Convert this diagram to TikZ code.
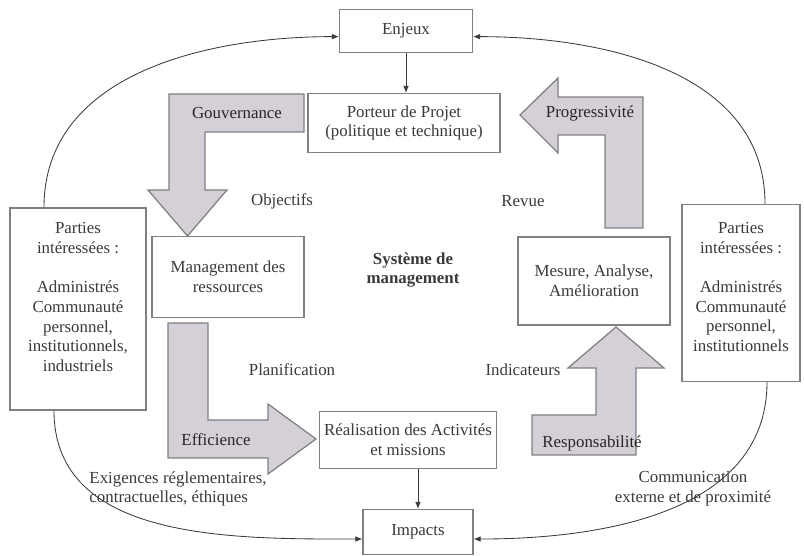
\documentclass[tikz,border=0pt]{standalone}
\usepackage{fontspec}
\setmainfont{Liberation Serif}
\usetikzlibrary{arrows.meta}

\definecolor{trait}{HTML}{808080}
\definecolor{texte}{HTML}{3A3A3A}
\definecolor{fondfleche}{HTML}{D5CFD7}

\tikzset{
  boite/.style={draw=trait, line width=0.8pt, fill=white, align=center, text=texte},
  etiq/.style={inner sep=1pt, text=black!85},
  grosse/.style={draw=trait, line width=0.9pt, fill=fondfleche},
  fleche/.style={draw=texte, line width=0.6pt, -{Latex[length=5pt,width=4pt]}},
  libre/.style={align=center, text=texte}
}

\begin{document}
\begin{tikzpicture}[x=0.025cm, y=-0.025cm, font=\fontsize{12}{14}\selectfont]
  \useasboundingbox (0,0) rectangle (804,556);

  % boites
  \node (enjeux) at (406,31) [boite, minimum width=3.325cm, minimum height=1.075cm]{Enjeux};
  \node (porteur) at (404,123) [boite, minimum width=4.8cm, minimum height=1.475cm]{Porteur de Projet\\(politique et technique)};
  \node (manag) at (228,277) [boite, minimum width=3.8cm, minimum height=2.025cm]{Management des\\ressources};
  \node (mesure) at (594,281) [boite, minimum width=3.8cm, minimum height=2.2cm]{Mesure, Analyse,\\Amélioration};
  \node (realis) at (408,440) [boite, minimum width=4.425cm, minimum height=1.425cm]{Réalisation des Activités\\et missions};
  \node (impacts) at (418,532) [boite, minimum width=2.75cm, minimum height=1.125cm]{Impacts};

  % parties interessees
  \node (pg) at (78,309) [boite, minimum width=3.4cm, minimum height=5.05cm]{};
  \node (pgtxt) at (78,297) [libre]{Parties\\intéressées :\\[14pt]Administrés\\Communauté\\personnel,\\institutionnels,\\industriels};
  \node (pd) at (741,293) [boite, minimum width=2.95cm, minimum height=4.425cm]{};
  \node (pdtxt) at (741,287) [libre]{Parties\\intéressées :\\[14pt]Administrés\\Communauté\\personnel,\\institutionnels};

  % contour
  \draw[fleche] ([xshift=-0.85cm]pg.north) to[out=90, in=180] ([yshift=-4pt]enjeux.west);
  \draw[fleche] ([xshift=0.6cm]pd.north) to[out=90, in=0] ([yshift=-4pt]enjeux.east);
  \draw[fleche] ([xshift=-0.6cm]pg.south) to[out=-90, in=180] ([yshift=-5pt]impacts.west);
  \draw[fleche] ([xshift=0.65cm]pd.south) to[out=-90, in=0] ([yshift=-5pt]impacts.east);

  \draw[fleche] (enjeux.south) -- (enjeux.south |- porteur.north);
  \draw[fleche] (impacts.north |- realis.south) -- (impacts.north);

  % grosses fleches
  \draw[grosse] (304,94) -- (169,94) -- (169,190) -- (148,190) -- (187.5,236) -- (227,190) -- (205,190) -- (205,132) -- (304,132) -- cycle;
  \draw[grosse] (168,323) -- (208,323) -- (208,420) -- (268,420) -- (268,404) -- (316,439) -- (268,474) -- (268,458) -- (168,458) -- cycle;
  \draw[grosse] (532,415) -- (596,415) -- (596,368) -- (568,368) -- (616,327) -- (664,368) -- (636,368) -- (636,455) -- (532,455) -- cycle;
  \draw[grosse] (643,228) -- (605,228) -- (605,135) -- (558,135) -- (558,153) -- (520,115) -- (558,78) -- (558,97) -- (643,97) -- cycle;

  \node (gouv) at (237,113) [etiq]{Gouvernance};
  \node (effic) at (216,440) [etiq]{Efficience};
  \node (respo) at (592,443) [etiq]{Responsabilité};
  \node (progr) at (590,113) [etiq]{Progressivité};

  % textes
  \node (objectifs) at (282,201) [libre]{Objectifs};
  \node (revue) at (523,201) [libre]{Revue};
  \node (systeme) at (413,270) [libre, font=\fontsize{12}{14}\selectfont\bfseries]{Système de\\management};
  \node (planif) at (292,370) [libre]{Planification};
  \node (indic) at (523,370) [libre]{Indicateurs};
  \node (exig) at (178,489) [libre, align=left]{Exigences réglementaires,\\contractuelles, éthiques};
  \node (commu) at (693,489) [libre]{Communication\\externe et de proximité};
\end{tikzpicture}
\end{document}
